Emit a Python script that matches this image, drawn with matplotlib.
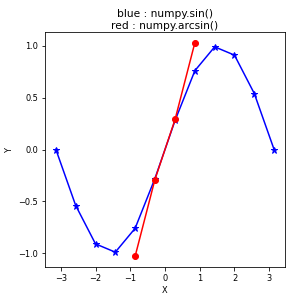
import matplotlib
matplotlib.use("Agg")
import matplotlib.pyplot as plt

# values
sin_x = [-3.14, -2.57, -2.0, -1.43, -0.86, -0.29, 0.29, 0.86, 1.43, 2.0, 2.57, 3.14]
sin_y = [0.0, -0.54, -0.91, -0.99, -0.76, -0.28, 0.28, 0.76, 0.99, 0.91, 0.54, 0.0]
arcsin_x = [-0.86, -0.29, 0.29, 0.86]
arcsin_y = [-1.03, -0.29, 0.29, 1.03]

DPI = 72  # 1pt == 1px
plt.rcParams["font.size"] = 8.2
fig = plt.figure(figsize=(295 / DPI, 300 / DPI), dpi=DPI)
ax = fig.add_axes([0.1525, 0.11, 0.8136, 0.7833])

ax.plot(sin_x, sin_y, color="blue", marker="*", lw=1.5, ms=7)
ax.plot(arcsin_x, arcsin_y, color="red", marker="o", lw=1.5, ms=6)

ax.set_title("blue : numpy.sin()\nred : numpy.arcsin()", fontsize=10.6, pad=3)
ax.set_xlabel("X", labelpad=3)
ax.set_ylabel("Y", labelpad=4)
ax.set_xticks([-3, -2, -1, 0, 1, 2, 3])
ax.set_yticks([-1.0, -0.5, 0.0, 0.5, 1.0])

fig.savefig("out.png", dpi=DPI)
